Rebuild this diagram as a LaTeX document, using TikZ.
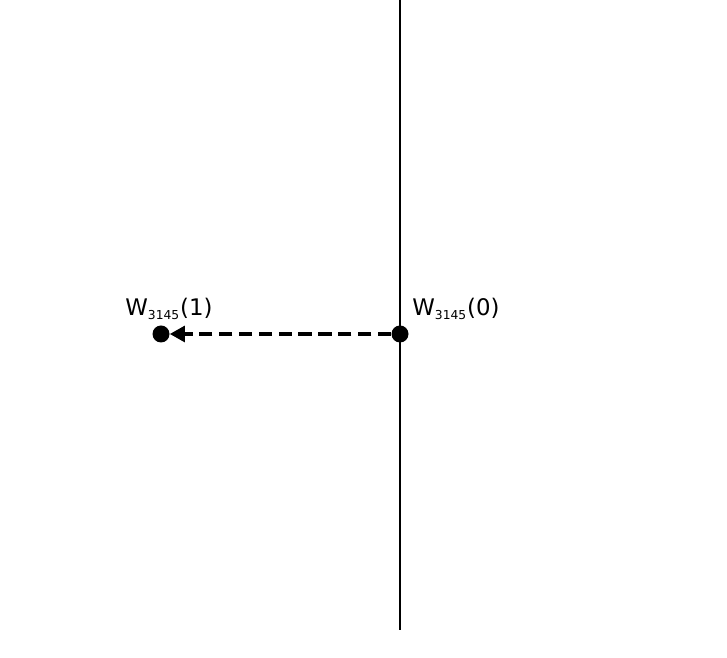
\documentclass[tikz,border=0pt]{standalone}
\usepackage{fontspec}
\setmainfont{DejaVu Sans}
\usetikzlibrary{arrows.meta}

\tikzset{
  state/.style={circle, fill=black, inner sep=0pt, minimum size=0.34cm},
  lbl/.style={font=\fontsize{13}{15}\selectfont, inner sep=0pt, anchor=base west},
  move/.style={line width=1.8pt, dash pattern=on 7.6pt off 3.7pt, -{Triangle[length=8.5pt,width=9pt]}}
}

\begin{document}
\begin{tikzpicture}
\useasboundingbox (0,0) rectangle (14.54,13.16);
\coordinate (top) at (8,13.16);
\coordinate (bot) at (8,0.56);
\draw [line width=1.5pt] (top) -- (bot);
\node [state] (w0) at (8,6.48) {};
\node [state] (w1) at (3.22,6.48) {};
\draw [move] (w0) -- (w1);
\node [lbl] (l0) at (8.24,6.84) {W\textsubscript{\fontsize{7}{8}\selectfont 3145}(0)};
\node [lbl] (l1) at (2.5,6.84) {W\textsubscript{\fontsize{7}{8}\selectfont 3145}(1)};
\end{tikzpicture}
\end{document}
